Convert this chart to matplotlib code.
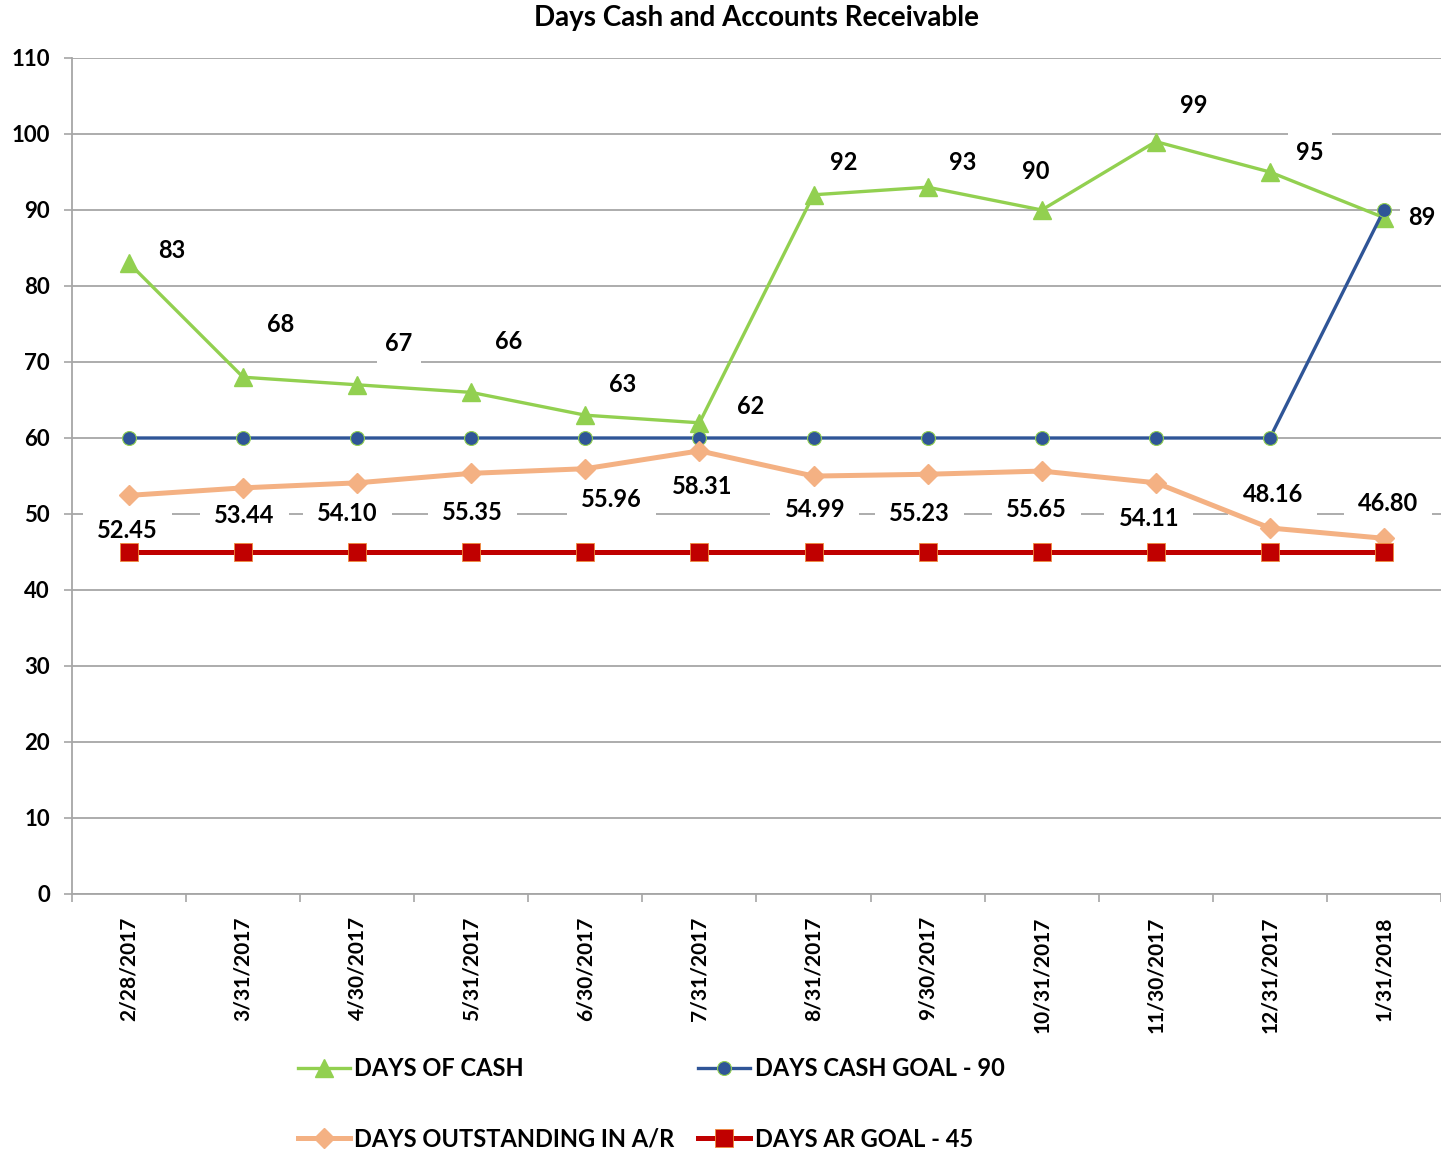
import numpy as np
import matplotlib
matplotlib.use("Agg")
import matplotlib.pyplot as plt

# =====================
# DATA
# =====================
dates = ["2/28/2017", "3/31/2017", "4/30/2017", "5/31/2017", "6/30/2017", "7/31/2017",
         "8/31/2017", "9/30/2017", "10/31/2017", "11/30/2017", "12/31/2017", "1/31/2018"]
days_cash = [83, 68, 67, 66, 63, 62, 92, 93, 90, 99, 95, 89]
cash_goal = [60, 60, 60, 60, 60, 60, 60, 60, 60, 60, 60, 90]
days_ar = [52.45, 53.44, 54.10, 55.35, 55.96, 58.31, 54.99, 55.23, 55.65, 54.11, 48.16, 46.80]
ar_goal = [45] * 12

# label offsets in points (dx, dy) as placed in the original chart
cash_offsets = [(31, 9), (27, 38), (30, 30), (27, 37), (27, 22), (37, 12),
                (22, 23), (25, 18), (-4, 28), (27, 26), (29, 14), (27, 0)]
ar_offsets = [(-1, -25), (1, -20), (-7, -22), (1, -28), (19, -22), (2, -26),
              (1, -24), (-6, -28), (-4, -28), (-5, -26), (2, 24), (3, 25)]

# =====================
# STYLE
# =====================
plt.rcParams.update({
    "font.family": ["Lato", "DejaVu Sans"],
    "font.size": 15,
})

GREEN = "#92D050"
BLUE = "#2F5597"
ORANGE = "#F4B183"
RED = "#C00000"
GRID = "#A6A6A6"

fig = plt.figure(figsize=(14.41, 11.54), dpi=100)
ax = fig.add_axes([72 / 1441, 1 - 894 / 1154, 1 - 72 / 1441, (894 - 58) / 1154])

x = np.arange(len(dates))

ax.plot(x, days_cash, color=GREEN, lw=2.4, marker="^", ms=13,
        label="DAYS OF CASH", zorder=3)
ax.plot(x, cash_goal, color=BLUE, lw=2.4, marker="o", ms=10,
        mfc=BLUE, mec=GREEN, mew=0.8, label="DAYS CASH GOAL - 90", zorder=4)
ax.plot(x, days_ar, color=ORANGE, lw=3.6, marker="D", ms=10,
        label="DAYS OUTSTANDING IN A/R", zorder=5)
ax.plot(x, ar_goal, color=RED, lw=3.6, marker="s", ms=13,
        mfc=RED, mec="#F08C3C", mew=0.6, label="DAYS AR GOAL - 45", zorder=6)

for xi, v, (dx, dy) in zip(x, days_cash, cash_offsets):
    ax.annotate(f"{v:d}", (xi, v), xytext=(dx, dy), textcoords="offset points",
                ha="center", va="center", fontsize=17, fontweight="bold",
                bbox=dict(boxstyle="square,pad=0.35", fc="white", ec="none"), zorder=7)
for xi, v, (dx, dy) in zip(x, days_ar, ar_offsets):
    ax.annotate(f"{v:.2f}", (xi, v), xytext=(dx, dy), textcoords="offset points",
                ha="center", va="center", fontsize=17, fontweight="bold",
                bbox=dict(boxstyle="square,pad=0.6", fc="white", ec="none"), zorder=2)

# =====================
# AXES
# =====================
ax.set_xlim(-0.5, len(dates) - 0.5)
ax.set_ylim(0, 110)
ax.set_yticks(np.arange(0, 111, 10))
ax.set_xticks(x)
ax.set_xticklabels(dates, rotation=90, fontsize=15, fontweight="bold")
ax.set_xticks(np.arange(-0.5, len(dates), 1), minor=True)
ax.tick_params(axis="x", which="major", length=0, pad=16)
ax.tick_params(axis="x", which="minor", length=6, color=GRID, width=1.2)
ax.tick_params(axis="y", length=6, color=GRID, width=1.2, pad=10, labelsize=16)
for lab in ax.get_yticklabels():
    lab.set_fontweight("bold")

ax.grid(axis="y", color=GRID, lw=1.3, zorder=0)
ax.set_axisbelow(True)
for s in ["top", "right"]:
    ax.spines[s].set_visible(False)
for s in ["left", "bottom"]:
    ax.spines[s].set_color(GRID)
    ax.spines[s].set_linewidth(1.3)

fig.text((72 + 1441) / 2 / 1441, 1 - 18 / 1154, "Days Cash and Accounts Receivable",
         ha="center", va="center", fontsize=20, fontweight="bold")

handles, labels = ax.get_legend_handles_labels()
order = [0, 2, 1, 3]
fig.legend([handles[i] for i in order], [labels[i] for i in order],
           ncol=2, loc="center left", bbox_to_anchor=(286 / 1441, 1 - 1104 / 1154),
           frameon=False, prop={"size": 17, "weight": "bold"}, handlelength=2.2,
           handletextpad=0.2, labelspacing=2.0, columnspacing=1.0, borderpad=0)

fig.savefig("out.png", dpi=100)
